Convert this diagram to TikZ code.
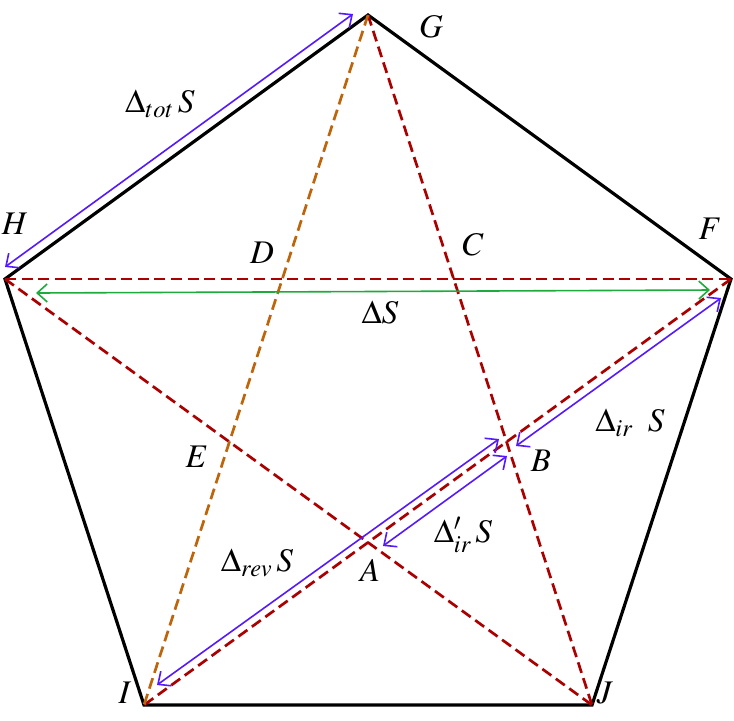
\documentclass[tikz,border=0pt]{standalone}
\usepackage{mathptmx}
\usetikzlibrary{arrows.meta}
\definecolor{dred}{RGB}{170,0,0}
\definecolor{dorange}{RGB}{190,100,10}
\definecolor{vblue}{RGB}{85,25,255}
\definecolor{lgreen}{RGB}{30,170,60}
\begin{document}
\begin{tikzpicture}[
    x = 0.5pt, y = -0.5pt,
 side/.style = {line width=1.6pt, color=black},
 diag/.style = {dash pattern=on 5.5pt off 2.8pt, line width=1.35pt, color=dred},
 diago/.style = {diag, color=dorange},
  dif/.style = {{Straight Barb[length=5pt,width=9pt]}-{Straight Barb[length=5pt,width=9pt]}, line width=0.8pt, color=vblue},
every node/.append style = {font=\fontsize{16.5}{19}\selectfont, inner sep=1pt}
                    ]
\useasboundingbox (0,0) rectangle (734,720);
% corners of the pentagon
\coordinate (G) at (368,15);
\coordinate (F) at (731,279);
\coordinate (J) at (592,705);
\coordinate (I) at (144,705);
\coordinate (H) at (5,279);

% ends of the arrows
\coordinate (tot1) at (353,14);
\coordinate (tot2) at (5,267);
\coordinate (s1) at (36,293);
\coordinate (s2) at (710,290);
\coordinate (ir1) at (721,298);
\coordinate (ir2) at (516,446);
\coordinate (rev1) at (499,439);
\coordinate (rev2) at (157,685);
\coordinate (irp1) at (507,456);
\coordinate (irp2) at (383,546);

\draw[side] (G) -- (F) -- (J) -- (I) -- (H) -- cycle;

\path (H) edge[diag] (F);
\path (G) edge[diag] (J);
\path (H) edge[diag] (J);
\path (F) edge[diag] (I);
\path (G) edge[diago] (I);

\path (tot1) edge[dif] (tot2);
\path (s1) edge[dif, color=lgreen] (s2);
\path (ir1) edge[dif] (ir2);
\path (rev1) edge[dif] (rev2);
\path (irp1) edge[dif] (irp2);

% letters
\node (lG) at (431,27) {$G$};
\node (lH) at (15,224) {$H$};
\node (lF) at (710,229) {$F$};
\node (lD) at (262,253) {$D$};
\node (lC) at (473,245) {$C$};
\node (lE) at (197,457) {$E$};
\node (lB) at (541,461) {$B$};
\node (lA) at (370,570) {$A$};
\node (lI) at (125,693) {$I$};
\node (lJ) at (605,693) {$J$};

% arrow labels
\node (ltot) at (160,104) {$\Delta_{tot}\,S$};
\node (lS) at (380,312) {$\Delta S$};
\node (lir) at (630,423) {$\Delta_{ir}\;\;S$};
\node (lirp) at (463,535) {$\Delta^{\prime}_{ir}\,S$};
\node (lrev) at (257,563) {$\Delta_{rev}\,S$};

\end{tikzpicture}
\end{document}
